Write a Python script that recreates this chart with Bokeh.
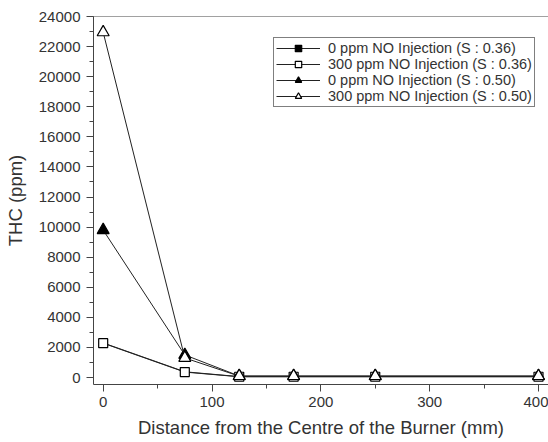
from bokeh.plotting import figure
from bokeh.models import FixedTicker, Legend, LegendItem, Range1d, Span
from bokeh.embed import file_html
from bokeh.resources import INLINE

distance = [0, 75, 125, 175, 250, 400]
s036_0ppm = [2300, 380, 60, 60, 60, 60]
s036_300ppm = [2280, 360, 50, 50, 50, 50]
s050_0ppm = [9800, 1500, 100, 100, 100, 100]
s050_300ppm = [22950, 1300, 90, 90, 90, 90]

labels = ["0 ppm NO Injection (S : 0.36)", "300 ppm NO Injection (S : 0.36)",
          "0 ppm NO Injection (S : 0.50)", "300 ppm NO Injection (S : 0.50)"]

FONT = "Liberation Sans"
TXT = "#333333"

p = figure(width=548, height=442, output_backend="svg", toolbar_location=None,
           x_range=Range1d(-8.9, 409.2), y_range=Range1d(-465, 24000),
           min_border_left=93, min_border_top=16, min_border_bottom=58, min_border_right=0)
p.xgrid.visible = False
p.ygrid.visible = False
p.outline_line_color = None
p.background_fill_color = "white"
p.border_fill_color = "white"

p.add_layout(Span(location=24000, dimension="width", line_color="#444444", line_width=1))

p.xaxis[0].ticker = FixedTicker(ticks=[0, 100, 200, 300, 400], minor_ticks=list(range(0, 451, 50)))
p.yaxis[0].ticker = FixedTicker(ticks=list(range(0, 24001, 2000)), minor_ticks=list(range(0, 24001, 1000)))
for ax in (p.below[0], p.left[0]):
    ax.axis_line_color = "#444444"
    ax.major_tick_line_color = "#444444"
    ax.minor_tick_line_color = "#444444"
    ax.major_tick_out = 7
    ax.major_tick_in = 0
    ax.minor_tick_out = 4
    ax.minor_tick_in = 0
    ax.major_label_text_font = FONT
    ax.major_label_text_font_size = "15px"
    ax.major_label_text_color = TXT
    ax.axis_label_text_font = FONT
    ax.axis_label_text_font_size = "18.5px"
    ax.axis_label_text_font_style = "normal"
    ax.axis_label_text_color = TXT
p.below[0].axis_label = "Distance from the Centre of the Burner (mm)"
p.left[0].axis_label = "THC (ppm)"
p.below[0].major_label_standoff = 5
p.below[0].axis_label_standoff = 7
p.left[0].major_label_standoff = 6
p.left[0].axis_label_standoff = 10

items = []
specs = [
    (s036_0ppm, "square", "black", 7),
    (s036_300ppm, "square", "white", 9),
    (s050_0ppm, "triangle", "black", 12),
    (s050_300ppm, "triangle", "white", 12),
]
for (ys, marker, fill, size), lab in zip(specs, labels):
    ln = p.line(distance, ys, line_color="#222222", line_width=1)
    sc = p.scatter(distance, ys, marker=marker, size=size, fill_color=fill,
                   line_color="black", line_width=1.2)
    items.append(LegendItem(label=lab, renderers=[ln, sc]))

legend = Legend(items=items, location=(180, 277))
legend.border_line_color = "black"
legend.border_line_width = 1
legend.label_text_font = FONT
legend.label_text_font_size = "14.5px"
legend.label_text_color = TXT
legend.glyph_width = 44
legend.glyph_height = 16
legend.label_height = 16
legend.spacing = 0
legend.padding = 2
legend.margin = 0
legend.label_standoff = 8
p.add_layout(legend, "center")

open("out.html", "w").write(file_html(p, INLINE))
